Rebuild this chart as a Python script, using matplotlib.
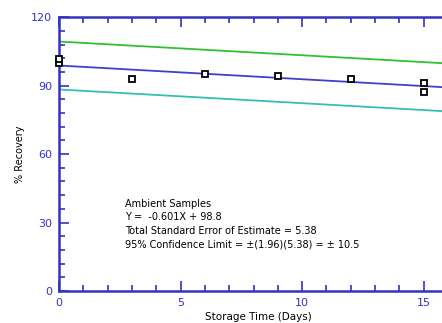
import numpy as np
import matplotlib.pyplot as plt
from matplotlib.ticker import MultipleLocator

# storage study, ambient samples
days = [0, 0, 3, 6, 9, 12, 15, 15]
recovery = [100.0, 101.5, 92.9, 95.0, 94.2, 92.9, 91.0, 87.2]

slope = -0.601
intercept = 98.8
conf = 10.5

blue = (0.2, 0.2, 0.75)
fig = plt.figure(figsize=(4.42, 3.23), dpi=100)
ax = fig.add_axes([0.1335, 0.099, 0.9, 0.848])

x = np.array([0, 17])
ax.plot(x, intercept + slope * x, color=(0.25, 0.25, 0.8), lw=1.3)
ax.plot(x, intercept + conf + slope * x, color=(0.2, 0.75, 0.2), lw=1.3)
ax.plot(x, intercept - conf + slope * x, color=(0.2, 0.75, 0.7), lw=1.3)
ax.plot(days, recovery, ls='none', marker='s', ms=4, mfc='white',
        mec='black', mew=1.3, clip_on=False, zorder=5)

ax.set_xlim(0, 16.36)
ax.set_ylim(0, 120)
ax.xaxis.set_major_locator(MultipleLocator(5))
ax.xaxis.set_minor_locator(MultipleLocator(1))
ax.yaxis.set_major_locator(MultipleLocator(30))
ax.yaxis.set_minor_locator(MultipleLocator(6))
ax.tick_params(which='both', direction='in', top=True, right=False,
               color=blue, labelcolor=blue, width=1.2, labelsize=8)
ax.tick_params(which='major', length=7, pad=5)
ax.tick_params(which='minor', length=4)
for s in ax.spines.values():
    s.set_color(blue)
    s.set_linewidth(1.8)
ax.spines['right'].set_visible(False)

ax.set_xlabel('Storage Time (Days)', fontsize=7.5, labelpad=3)
ax.set_ylabel('% Recovery', fontsize=7, labelpad=4)

txt = ('Ambient Samples\n'
       'Y =  -0.601X + 98.8\n'
       'Total Standard Error of Estimate = 5.38\n'
       '95% Confidence Limit = \u00b1(1.96)(5.38) = \u00b1 10.5')
ax.text(2.7, 40.5, txt, fontsize=7, va='top', ha='left', linespacing=1.45)

fig.savefig('out.png', dpi=100)
